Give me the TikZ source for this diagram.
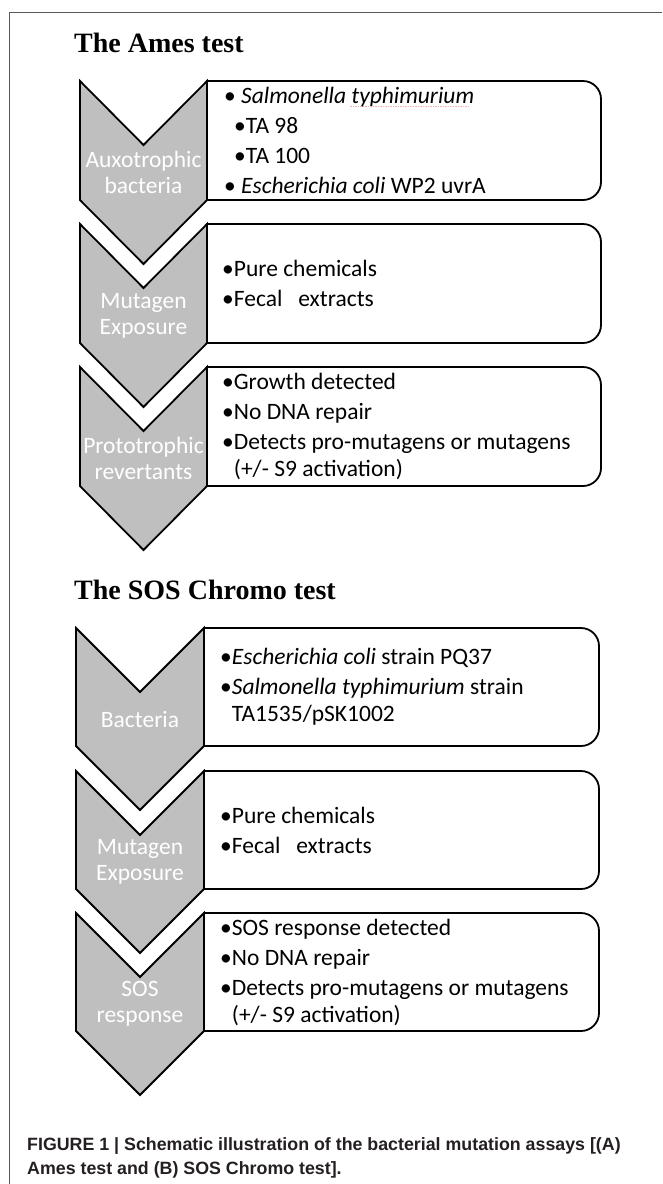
\documentclass[tikz,border=0pt]{standalone}
\usepackage{fontspec}
\setmainfont{Carlito}
\newfontfamily\titlefont{Liberation Serif}
\newfontfamily\capfont{Liberation Sans}
\usetikzlibrary{positioning}
\tikzset{chev/.style = {draw = black, fill = mgray, line width = 1.8, line join = miter}}
\tikzset{infobox/.style = {draw = black, fill = white, line width = 1.8}}
\tikzset{steplabel/.style = {text = white, align = center, inner sep = 0, font = \fontsize{23.5}{26}\selectfont}}
\tikzset{itemtext/.style = {anchor = west, align = left, inner sep = 0, font = \fontsize{23.5}{27}\selectfont}}
\tikzset{heading/.style = {anchor = base west, inner sep = 0, font = \titlefont\bfseries\fontsize{28}{30}\selectfont}}
\tikzset{captext/.style = {anchor = base west, inner sep = 0, text = mcap, font = \capfont\bfseries\fontsize{17.8}{24}\selectfont}}
\definecolor{mgray}{rgb}{0.75, 0.75, 0.75}
\definecolor{mframe}{rgb}{0.35, 0.35, 0.35}
\definecolor{mcap}{rgb}{0.14, 0.12, 0.13}
\definecolor{mspell}{rgb}{0.96, 0.7, 0.7}

\begin{document}
\begin{tikzpicture}[x=1pt, y=-1pt]
    \useasboundingbox (0, 0) rectangle (662, 1184);
    \draw [mframe, line width = 1] (662, 12) -- (9, 12) -- (9, 1184);

    \node (amestitle) [heading] at (74, 52) {The Ames test};

    \draw [infobox] (207, 81) -- (583, 81) .. controls (592.9, 81) and (601, 89.1) .. (601, 99)
        -- (601, 182) .. controls (601, 191.9) and (592.9, 200) .. (583, 200) -- (207, 200) -- cycle;
    \draw [infobox] (207, 224) -- (583, 224) .. controls (592.9, 224) and (601, 232.1) .. (601, 242)
        -- (601, 325) .. controls (601, 334.9) and (592.9, 343) .. (583, 343) -- (207, 343) -- cycle;
    \draw [infobox] (207, 367) -- (583, 367) .. controls (592.9, 367) and (601, 375.1) .. (601, 385)
        -- (601, 468) .. controls (601, 477.9) and (592.9, 486) .. (583, 486) -- (207, 486) -- cycle;

    \draw [chev] (80, 81) -- (143.5, 145) -- (207, 81) -- (207, 200) -- (143.5, 264) -- (80, 200) -- cycle;
    \draw [chev] (80, 224) -- (143.5, 288) -- (207, 224) -- (207, 343) -- (143.5, 407) -- (80, 343) -- cycle;
    \draw [chev] (80, 367) -- (143.5, 431) -- (207, 367) -- (207, 486) -- (143.5, 550) -- (80, 486) -- cycle;

    \node (auxlabel) [steplabel] at (143.5, 172.5) {Auxotrophic\\bacteria};
    \node (mutlabel) [steplabel] at (143.5, 315.5) {Mutagen\\Exposure};
    \node (protolabel) [steplabel] at (143.5, 458.5) {Prototrophic\\revertants};

    \node (auxtext) [itemtext] at (224, 140.5) {%
        • \textit{Salmonella typhimurium}\\[3pt]
        \hspace*{10pt}•TA 98\\[3pt]
        \hspace*{10pt}•TA 100\\[3pt]
        • \textit{Escherichia coli} WP2 uvrA};
    \draw [mspell, line width = 0.4, dash pattern = on 1.5pt off 1pt] (350, 106) -- (469, 106);
    \node (muttext) [itemtext] at (222, 283.5) {•Pure chemicals\\[3pt] •Fecal~~~extracts};
    \node (prototext) [itemtext] at (222, 426.5) {%
        •Growth detected\\[3pt]
        •No DNA repair\\[3pt]
        •Detects pro-mutagens or mutagens\\
        \hphantom{•}(+/- S9 activation)};

    \node (sostitle) [heading] at (74, 599) {The SOS Chromo test};

    \draw [infobox] (204, 628) -- (581, 628) .. controls (590.9, 628) and (599, 636.1) .. (599, 646)
        -- (599, 728) .. controls (599, 737.9) and (590.9, 746) .. (581, 746) -- (204, 746) -- cycle;
    \draw [infobox] (204, 771) -- (581, 771) .. controls (590.9, 771) and (599, 779.1) .. (599, 789)
        -- (599, 871) .. controls (599, 880.9) and (590.9, 889) .. (581, 889) -- (204, 889) -- cycle;
    \draw [infobox] (204, 913) -- (581, 913) .. controls (590.9, 913) and (599, 921.1) .. (599, 931)
        -- (599, 1013) .. controls (599, 1022.9) and (590.9, 1031) .. (581, 1031) -- (204, 1031) -- cycle;

    \draw [chev] (76, 628) -- (140, 692) -- (204, 628) -- (204, 746) -- (140, 810) -- (76, 746) -- cycle;
    \draw [chev] (76, 771) -- (140, 835) -- (204, 771) -- (204, 889) -- (140, 953) -- (76, 889) -- cycle;
    \draw [chev] (76, 913) -- (140, 977) -- (204, 913) -- (204, 1031) -- (140, 1095) -- (76, 1031) -- cycle;

    \node (baclabel) [steplabel] at (140, 719) {Bacteria};
    \node (sosmutlabel) [steplabel] at (140, 862) {Mutagen\\Exposure};
    \node (soslabel) [steplabel] at (140, 1004) {SOS\\response};

    \node (bactext) [itemtext] at (220, 687) {%
        •\textit{Escherichia coli} strain PQ37\\[3pt]
        •\textit{Salmonella typhimurium} strain\\
        \hphantom{•}TA1535/pSK1002};
    \node (sosmuttext) [itemtext] at (220, 830) {•Pure chemicals\\[3pt] •Fecal~~~extracts};
    \node (sostext) [itemtext] at (220, 972) {%
        •SOS response detected\\[3pt]
        •No DNA repair\\[3pt]
        •Detects pro-mutagens or mutagens\\
        \hphantom{•}(+/- S9 activation)};

    \node (caplinea) [captext] at (27, 1150) {FIGURE 1 | Schematic illustration of the bacterial mutation assays [(A)};
    \node (caplineb) [captext] at (27, 1174) {Ames test and (B) SOS Chromo test].};
\end{tikzpicture}
\end{document}
